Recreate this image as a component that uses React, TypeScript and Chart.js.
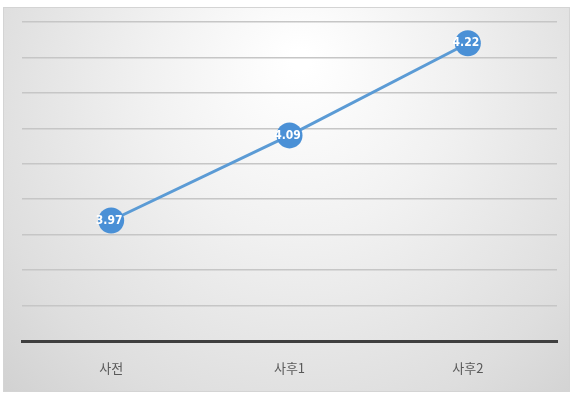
import React, { useEffect, useRef } from "react";
import { Chart, registerables } from "chart.js";

Chart.register(...registerables);

const categories = ["사전", "사후1", "사후2"];
const values = [3.97, 4.09, 4.22];
const yMin = 3.8;
const yMax = 4.25;
const yStep = 0.05;

const bgPlugin = {
  id: "bgBox",
  beforeDraw(chart: any) {
    const { ctx, width, height } = chart;
    ctx.save();
    const x0 = 3, y0 = 7, x1 = width - 5, y1 = height - 2;
    const g = ctx.createRadialGradient(300, 60, 10, 300, 120, 420);
    g.addColorStop(0, "#ffffff");
    g.addColorStop(0.35, "#f1f1f1");
    g.addColorStop(0.75, "#dedede");
    g.addColorStop(1, "#cfcfcf");
    ctx.fillStyle = g;
    ctx.fillRect(x0, y0, x1 - x0, y1 - y0);
    ctx.strokeStyle = "#d4d4d4";
    ctx.lineWidth = 1;
    ctx.strokeRect(x0 + 0.5, y0 + 0.5, x1 - x0 - 1, y1 - y0 - 1);
    ctx.restore();
  },
};

const labelPlugin = {
  id: "pointLabels",
  afterDatasetsDraw(chart: any) {
    const { ctx } = chart;
    const meta = chart.getDatasetMeta(0);
    ctx.save();
    ctx.fillStyle = "#ffffff";
    ctx.font = "bold 12px 'Liberation Sans Narrow', 'DejaVu Sans Condensed', Arial, sans-serif";
    ctx.textAlign = "center";
    ctx.textBaseline = "middle";
    meta.data.forEach((pt: any, i: number) => {
      ctx.fillText(values[i].toFixed(2), pt.x - 2, pt.y);
    });
    ctx.restore();
  },
};

export default function App() {
  const ref = useRef<HTMLCanvasElement | null>(null);
  useEffect(() => {
    document.body.style.margin = "0";
    const chart = new Chart(ref.current as HTMLCanvasElement, {
      type: "line",
      data: {
        labels: categories,
        datasets: [
          {
            data: values,
            borderColor: "#5b9bd5",
            backgroundColor: "#4a90d6",
            borderWidth: 3,
            pointRadius: 13,
            pointBackgroundColor: "#4a90d6",
            pointBorderColor: "#4a90d6",
            pointBorderWidth: 0,
            tension: 0,
          },
        ],
      },
      options: {
        responsive: false,
        animation: false,
        layout: { padding: { left: 22, right: 18, top: 22, bottom: 18 } },
        plugins: { legend: { display: false }, tooltip: { enabled: false } },
        scales: {
          x: {
            offset: true,
            grid: { display: false, drawTicks: false },
            border: { display: true, color: "#3f3f3f", width: 3 },
            ticks: {
              padding: 19,
              color: "#595959",
              font: { size: 13, family: "'Noto Sans CJK KR', sans-serif" },
            },
            afterFit(scale: any) {
              scale.height = 35;
            },
          },
          y: {
            min: yMin,
            max: yMax,
            ticks: { display: false, stepSize: yStep },
            grid: { color: "#c6c6c6", lineWidth: 1.5, drawTicks: false },
            border: { display: false },
          },
        },
      },
      plugins: [bgPlugin, labelPlugin],
    });
    return () => chart.destroy();
  }, []);
  return <canvas ref={ref} width={575} height={394} style={{ display: "block" }} />;
}
